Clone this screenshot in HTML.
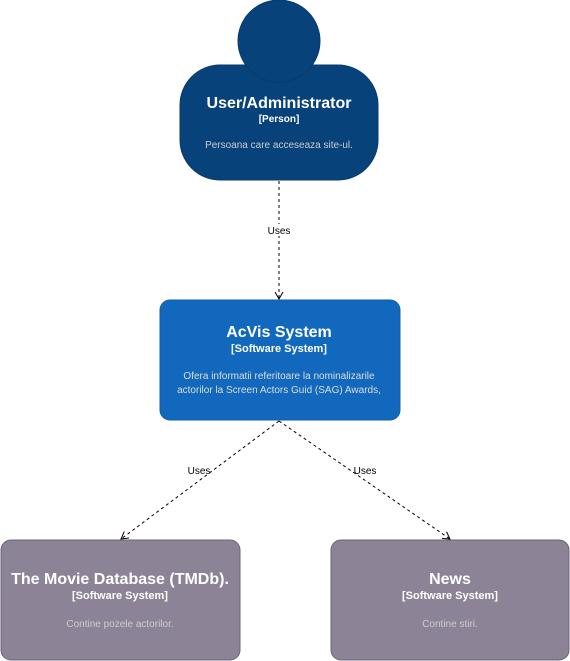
<!DOCTYPE html>
<html><head><style>body{margin:0;background:#fff}svg{display:block}</style></head><body>
<svg width="570" height="661" viewBox="0 0 570 661" xmlns="http://www.w3.org/2000/svg" font-family="Liberation Sans, Arial, sans-serif">
<defs><marker id="a" markerWidth="10" markerHeight="10" refX="8" refY="5" orient="auto" markerUnits="userSpaceOnUse"><path d="M1,1 L8,5 L1,9" fill="none" stroke="#000" stroke-width="1"/></marker></defs>
<rect x="180" y="65" width="198" height="115" rx="40" fill="#08427b" stroke="#073b6f"/>
<circle cx="279" cy="41" r="41" fill="#08427b" stroke="#073b6f"/>
<text x="279" y="108" text-anchor="middle" fill="#fff" font-size="16" font-weight="bold">User/Administrator</text>
<text x="279" y="122" text-anchor="middle" fill="#fff" font-size="10" font-weight="bold">[Person]</text>
<text x="279" y="148" text-anchor="middle" fill="#ccc" font-size="10">Persoana care acceseaza site-ul.</text>
<rect x="160" y="300" width="240" height="120" rx="10" fill="#1168bd" stroke="#0f5eaa"/>
<text x="279" y="337" text-anchor="middle" fill="#fff" font-size="16" font-weight="bold">AcVis System</text>
<text x="279" y="352" text-anchor="middle" fill="#fff" font-size="11" font-weight="bold">[Software System]</text>
<text x="279" y="379" text-anchor="middle" fill="#ddd" font-size="10">Ofera informatii referitoare la nominalizarile</text>
<text x="279" y="393" text-anchor="middle" fill="#ddd" font-size="10">actorilor la Screen Actors Guid (SAG) Awards,</text>
<rect x="1" y="540" width="239" height="120" rx="10" fill="#8c8496" stroke="#6b6477"/>
<text x="120" y="584" text-anchor="middle" fill="#fff" font-size="16" font-weight="bold">The Movie Database (TMDb).</text>
<text x="120" y="599" text-anchor="middle" fill="#fff" font-size="11" font-weight="bold">[Software System]</text>
<text x="120" y="627" text-anchor="middle" fill="#ccc" font-size="10">Contine pozele actorilor.</text>
<rect x="331" y="540" width="238" height="120" rx="10" fill="#8c8496" stroke="#6b6477"/>
<text x="450" y="584" text-anchor="middle" fill="#fff" font-size="16" font-weight="bold">News</text>
<text x="450" y="599" text-anchor="middle" fill="#fff" font-size="11" font-weight="bold">[Software System]</text>
<text x="450" y="627" text-anchor="middle" fill="#ccc" font-size="10">Contine stiri.</text>
<g stroke="#000" stroke-dasharray="3,3" fill="none">
<line x1="279" y1="181" x2="279" y2="299" marker-end="url(#a)"/>
<line x1="279" y1="421" x2="121" y2="539" marker-end="url(#a)"/>
<line x1="279" y1="421" x2="450" y2="539" marker-end="url(#a)"/>
</g>
<g font-size="10" text-anchor="middle" fill="#000">
<rect x="266" y="224" width="27" height="12" fill="#fff"/><text x="279" y="234">Uses</text>
<text x="199" y="474">Uses</text>
<text x="365" y="474">Uses</text>
</g>
</svg>
</body></html>
